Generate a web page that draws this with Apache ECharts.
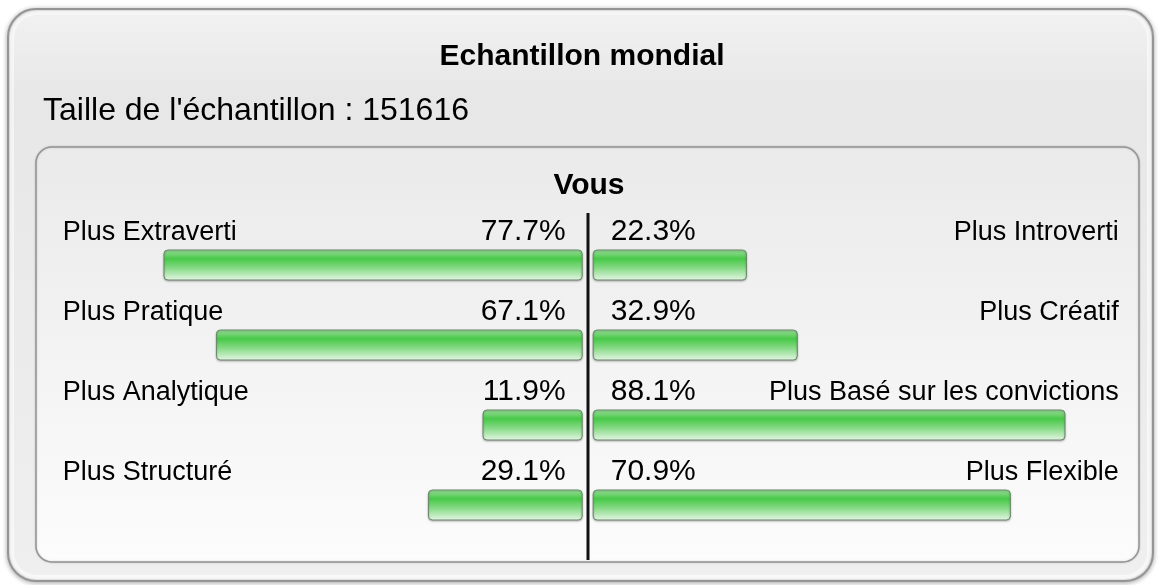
<!DOCTYPE html>
<html>
<head>
<meta charset="utf-8">
<script src="https://cdn.jsdelivr.net/npm/echarts/dist/echarts.min.js"></script>
<style>
  html, body { margin: 0; padding: 0; background: #fff; }
  #chart { width: 1161px; height: 585px; }
</style>
</head>
<body>
<div id="chart"></div>
<script>
// categories (left / right side of each dimension)
const leftNames = ["Plus Extraverti", "Plus Pratique", "Plus Analytique", "Plus Structuré"];
const rightNames = ["Plus Introverti", "Plus Créatif", "Plus Basé sur les convictions", "Plus Flexible"];
// percentages printed above the bars
const leftPct = [77.7, 67.1, 11.9, 29.1];
const rightPct = [22.3, 32.9, 88.1, 70.9];
// bar lengths as drawn in the picture (same 0-100 scale on both sides)
const leftBar = [79.1, 69.2, 18.9, 29.2];
const rightBar = [29.1, 38.7, 89.2, 78.9];

const FONT = '"Liberation Sans", Arial, Helvetica, sans-serif';

let barStyle = {
  color: new echarts.graphic.LinearGradient(0, 0, 0, 1, [
    { offset: 0, color: "#9fe09f" },
    { offset: 0.3, color: "#48c948" },
    { offset: 0.6, color: "#86da86" },
    { offset: 1, color: "#e6f6e6" }
  ]),
  borderColor: "#6a886a",
  borderWidth: 1,
  borderRadius: 4,
  shadowColor: "rgba(0,0,0,0.25)",
  shadowBlur: 2,
  shadowOffsetY: 1
};

// name sits one text line above the bar: empty second line pushes it up
function nameLabel(align, margin) {
  return {
    inside: true,
    align: align,
    margin: margin,
    verticalAlign: "middle",
    formatter: function(v) {
      return "{n|" + v + "}\n{g|}";
    },
    rich: {
      n: { fontSize: 27, fontFamily: FONT, color: "#000", lineHeight: 32, align: align },
      g: { lineHeight: 64 }
    }
  };
}

let option = {
  animation: false,
  graphic: [
    // outer panel
    {
      type: "rect", z: -20,
      shape: { x: 8, y: 9, width: 1145, height: 572, r: 28 },
      style: {
        fill: new echarts.graphic.LinearGradient(0, 0, 0, 1, [
          { offset: 0, color: "#f2f2f2" },
          { offset: 0.15, color: "#e7e7e7" },
          { offset: 1, color: "#efefef" }
        ]),
        stroke: "#959595",
        lineWidth: 2,
        shadowColor: "rgba(0,0,0,0.3)",
        shadowBlur: 5,
        shadowOffsetY: 1
      }
    },
    {
      type: "rect", z: -19,
      shape: { x: 12, y: 13, width: 1137, height: 564, r: 25 },
      style: { fill: null, stroke: "rgba(255,255,255,0.6)", lineWidth: 4 }
    },
    // inner panel
    {
      type: "rect", z: -18,
      shape: { x: 36, y: 147, width: 1103, height: 415, r: 16 },
      style: {
        fill: new echarts.graphic.LinearGradient(0, 0, 0, 1, [
          { offset: 0, color: "#eaeaea" },
          { offset: 1, color: "#fcfcfc" }
        ]),
        stroke: "#959595",
        lineWidth: 1.5,
        shadowColor: "rgba(0,0,0,0.2)",
        shadowBlur: 2
      }
    },
    // titles
    {
      type: "text", z: 10,
      style: {
        text: "Echantillon mondial", x: 582, y: 57,
        align: "center", verticalAlign: "middle",
        font: "bold 30px " + FONT, fill: "#000"
      }
    },
    {
      type: "text", z: 10,
      style: {
        text: "Taille de l'échantillon : 151616", x: 43, y: 111,
        align: "left", verticalAlign: "middle",
        font: "32px " + FONT, fill: "#000"
      }
    },
    {
      type: "text", z: 10,
      style: {
        text: "Vous", x: 589, y: 186,
        align: "center", verticalAlign: "middle",
        font: "bold 30px " + FONT, fill: "#000"
      }
    },
    // centre divider
    {
      type: "line", z: 10,
      shape: { x1: 588, y1: 213, x2: 588, y2: 560 },
      style: { stroke: "#111", lineWidth: 3 }
    }
  ],
  grid: [
    { left: 52.7, right: 578.3, top: 225, bottom: 40 },
    { left: 592.7, right: 38.3, top: 225, bottom: 40 }
  ],
  xAxis: [
    { gridIndex: 0, type: "value", min: 0, max: 100, inverse: true, show: false },
    { gridIndex: 1, type: "value", min: 0, max: 100, show: false }
  ],
  yAxis: [
    {
      gridIndex: 0,
      type: "category",
      inverse: true,
      position: "left",
      data: leftNames,
      axisLine: { show: false, onZero: false },
      axisTick: { show: false },
      splitLine: { show: false },
      axisLabel: nameLabel("left", 10)
    },
    {
      gridIndex: 1,
      type: "category",
      inverse: true,
      position: "right",
      data: rightNames,
      axisLine: { show: false, onZero: false },
      axisTick: { show: false },
      splitLine: { show: false },
      axisLabel: nameLabel("right", 4)
    }
  ],
  series: [
    {
      type: "bar",
      xAxisIndex: 0,
      yAxisIndex: 0,
      barWidth: 31,
      data: leftBar,
      itemStyle: barStyle,
      label: {
        show: true,
        position: "insideRight",
        distance: 17,
        offset: [0, -33],
        formatter: function(p) {
          return leftPct[p.dataIndex].toFixed(1) + "%";
        },
        fontSize: 30,
        fontFamily: FONT,
        color: "#000"
      }
    },
    {
      type: "bar",
      xAxisIndex: 1,
      yAxisIndex: 1,
      barWidth: 31,
      data: rightBar,
      itemStyle: barStyle,
      label: {
        show: true,
        position: "insideLeft",
        distance: 18,
        offset: [0, -33],
        formatter: function(p) {
          return rightPct[p.dataIndex].toFixed(1) + "%";
        },
        fontSize: 30,
        fontFamily: FONT,
        color: "#000"
      }
    }
  ]
};

let chart = echarts.init(document.getElementById("chart"));
chart.setOption(option);
</script>
</body>
</html>
